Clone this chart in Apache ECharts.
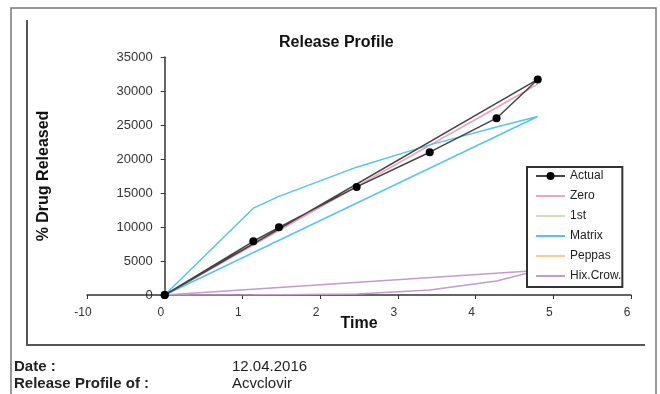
<!DOCTYPE html>
<html>
<head>
<meta charset="utf-8">
<title>Release Profile</title>
<script src="https://cdn.jsdelivr.net/npm/echarts@6/dist/echarts.min.js"></script>
<style>
  html, body { margin: 0; padding: 0; background: #fff; }
  #chart { width: 660px; height: 394px; }
</style>
</head>
<body>
<div id="chart"></div>
<script>
// Sampling times; the last entry returns each profile to the origin,
// so every curve is drawn out and back as one closed path.
const times = [0, 1.14, 1.47, 2.47, 3.41, 4.27, 4.80, 0];

// Measured release
const actual = [0, 7900, 9950, 15900, 21000, 26000, 31700, 0];
// Model fits
const zeroOrder = [0, 7350, 9480, 15930, 21990, 27540, 31000, 0];
const firstOrder = [];
const matrix = [0, 12770, 14500, 18800, 22080, 24710, 26250, 0];
const peppas = [];
const hixCrow = [0, 20, 40, 150, 730, 2050, 3600, 0];

const seriesNames = ['Actual', 'Zero', '1st', 'Matrix', 'Peppas', 'Hix.Crow.'];
const xTickLabels = ['-10', '0', '1', '2', '3', '4', '5', '6'];
const yTicks = [0, 5000, 10000, 15000, 20000, 25000, 30000, 35000];

const pairs = vals => vals.map((v, i) => [times[i], v]);

// Plot area
const GRID = { left: 87, right: 29, top: 57, bottom: 99 };
const CHART_W = 660;
const X_MIN = -1, X_MAX = 6;
// The value axis stands at time 0, one step in from the left edge
const yAxisShift = (CHART_W - GRID.left - GRID.right) * (0 - X_MIN) / (X_MAX - X_MIN);

const chart = echarts.init(document.getElementById('chart'), null, { renderer: 'canvas' });

const lineSeries = (name, vals, color, extra) => Object.assign({
  name: name,
  type: 'line',
  data: pairs(vals),
  showSymbol: false,
  symbol: 'none',
  lineStyle: { color: color, width: 1.5 },
  itemStyle: { color: color },
  animation: false,
  z: 2
}, extra || {});

// Legend entries: only the measured series shows a marker
const legendData = seriesNames.map(n => (
  n === 'Actual'
    ? { name: n, itemStyle: { color: '#000' } }
    : { name: n, itemStyle: { opacity: 0 } }
));

chart.setOption({
  backgroundColor: '#ffffff',
  textStyle: { fontFamily: 'Liberation Sans, Arial, sans-serif' },
  title: {
    text: 'Release Profile',
    left: 274,
    top: 30,
    textStyle: { fontSize: 16, fontWeight: 'bold', color: '#111' }
  },
  grid: Object.assign({ containLabel: false, outerBoundsMode: 'none' }, GRID),
  legend: {
    orient: 'vertical',
    left: 527,
    top: 167,
    padding: [3, 1, 5, 8],
    itemWidth: 29,
    itemHeight: 10,
    itemGap: 8,
    backgroundColor: '#fff',
    borderColor: '#333',
    borderWidth: 2,
    data: legendData,
    textStyle: { fontSize: 12, color: '#222' },
    z: 10
  },
  xAxis: {
    type: 'value',
    min: X_MIN,
    max: X_MAX,
    interval: 1,
    name: 'Time',
    nameLocation: 'middle',
    nameGap: 21,
    nameMoveOverlap: false,
    nameTextStyle: { fontSize: 16, fontWeight: 'bold', color: '#111' },
    axisLine: { onZero: true, lineStyle: { color: '#333', width: 1.5 } },
    axisTick: { show: true, inside: false, length: 4, lineStyle: { color: '#333' } },
    axisLabel: {
      margin: 12,
      fontSize: 12,
      color: '#333',
      padding: [0, 8, 0, 0],
      formatter: v => xTickLabels[Math.round(v) + 1]
    },
    splitLine: { show: false }
  },
  yAxis: {
    type: 'value',
    min: yTicks[0],
    max: yTicks[yTicks.length - 1],
    interval: yTicks[1] - yTicks[0],
    offset: -yAxisShift,
    name: '% Drug Released',
    nameLocation: 'middle',
    nameGap: 113,
    nameRotate: 90,
    nameMoveOverlap: false,
    nameTextStyle: { fontSize: 16, fontWeight: 'bold', color: '#111' },
    axisLine: { show: true, onZero: false, lineStyle: { color: '#333', width: 1.5 } },
    axisTick: { show: true, inside: false, length: 4, lineStyle: { color: '#333' } },
    axisLabel: { margin: 12, fontSize: 13, color: '#333', formatter: v => String(v) },
    splitLine: { show: false }
  },
  series: [
    lineSeries('Actual', actual, '#444', {
      showSymbol: true,
      symbol: 'circle',
      symbolSize: 8,
      itemStyle: { color: '#000' },
      lineStyle: { color: '#444', width: 1.5 },
      z: 3
    }),
    lineSeries('Zero', zeroOrder, '#f2a3c0'),
    lineSeries('1st', firstOrder, '#c9e3b6'),
    lineSeries('Matrix', matrix, '#56c4ee'),
    lineSeries('Peppas', peppas, '#fcc898'),
    lineSeries('Hix.Crow.', hixCrow, '#c49bcc')
  ],
  graphic: [
    {
      type: 'rect',
      silent: true,
      shape: { x: 11, y: 8, width: 645, height: 400 },
      style: { fill: 'none', stroke: '#777', lineWidth: 1.5 },
      z: 0
    },
    {
      type: 'polyline',
      silent: true,
      shape: { points: [[27, 20], [27, 345], [645, 345]] },
      style: { fill: 'none', stroke: '#555', lineWidth: 2 },
      z: 0
    },
    {
      type: 'text', left: 14, top: 359,
      style: { text: 'Date :', font: 'bold 15px "Liberation Sans", Arial, sans-serif', fill: '#222' }
    },
    {
      type: 'text', left: 14, top: 376,
      style: { text: 'Release Profile of :', font: 'bold 15px "Liberation Sans", Arial, sans-serif', fill: '#222' }
    },
    {
      type: 'text', left: 232, top: 359,
      style: { text: '12.04.2016', font: '15px "Liberation Sans", Arial, sans-serif', fill: '#222' }
    },
    {
      type: 'text', left: 232, top: 376,
      style: { text: 'Acvclovir', font: '15px "Liberation Sans", Arial, sans-serif', fill: '#222' }
    }
  ]
});
</script>
</body>
</html>
